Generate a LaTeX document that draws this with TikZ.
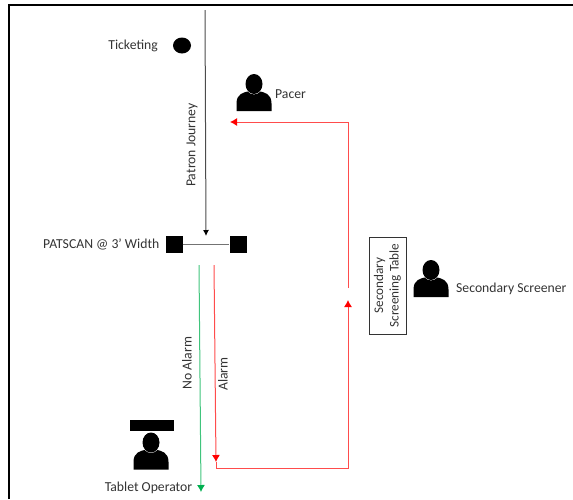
\documentclass[tikz,border=0pt]{standalone}
\usepackage{fontspec}
\setmainfont{Carlito}
\usetikzlibrary{arrows.meta,shapes.geometric}
\definecolor{officegreen}{RGB}{0,176,80}
\tikzset{
  x=1pt,y=-1pt,
  lbl/.style={inner sep=0pt,text=black!80,font=\fontsize{13.7}{16}\selectfont},
  post/.style={fill=black,draw=none,minimum size=17pt,inner sep=0pt},
  conn/.style={line width=1pt,-{Latex[length=6pt,width=6pt]}},
  redline/.style={conn,draw=red!70,-{Latex[length=7pt,width=8pt,color=red]}},
  greenline/.style={conn,draw=officegreen!75,-{Latex[length=7pt,width=8pt,color=officegreen]}},
  person/.pic={
    \fill[black] (0,-9.5) ellipse[x radius=8.5pt,y radius=10pt];
    \fill[black] (-17.5,17.5) -- (-17.5,10) .. controls (-17.5,0) and (-10,-1) .. (-6.5,-2)
      .. controls (-3,2) and (3,2) .. (6.5,-2)
      .. controls (10,-1) and (17.5,0) .. (17.5,10) -- (17.5,17.5) -- cycle;
  }
}
\begin{document}
\begin{tikzpicture}
\useasboundingbox (0,0) rectangle (573,499);
\draw[line width=2pt] (8.5,499) -- (8.5,5) -- (573,5);
% ticketing
\node[lbl,anchor=east] (ticketT) at (158,45.5) {Ticketing};
\node[ellipse,fill=black,minimum width=18pt,minimum height=16pt,inner sep=0pt] (ticket) at (182,45.5) {};
% pacer
\pic at (254,93.5) {person};
\node[lbl,anchor=west] (pacerT) at (275,94.5) {Pacer};
% patscan
\node[lbl,anchor=east] (patT) at (159.5,244.5) {PATSCAN @ 3’ Width};
\node[post] (pl) at (174,244.5) {};
\node[post] (pr) at (238,244.5) {};
\draw[draw=black!55,line width=1.2pt] (pl) -- (pr);
% journey
\coordinate (js) at (205,10);
\coordinate (je) at (206,236);
\draw[conn,draw=black!70,-{Latex[length=6pt,width=6pt,color=black]}] (js) -- (je);
\node[lbl,rotate=90] (jt) at (192,145) {Patron Journey};
% no alarm
\coordinate (gs) at (199,265);
\coordinate (ge) at (201,492);
\draw[greenline] (gs) -- (ge);
\node[lbl,rotate=90] (nat) at (187,363) {No Alarm};
% alarm
\coordinate (as) at (214,265);
\coordinate (ae) at (216,462);
\draw[redline] (as) -- (ae);
\node[lbl,rotate=90] (at) at (223,374) {Alarm};
% return
\coordinate (rs) at (216,462);
\coordinate (rb) at (216,468);
\coordinate (rc) at (348,468);
\coordinate (re) at (348,300);
\draw[redline,line join=miter] (rs) -- (rb) -- (rc) -- (re);
\coordinate (ts) at (348,288);
\coordinate (tc) at (348,122);
\coordinate (te) at (230,122);
\draw[redline] (ts) -- (tc) -- (te);
% table
\node[draw=black!80,line width=1pt,minimum width=37pt,minimum height=97pt,inner sep=0pt] (tbl) at (387.5,285.5) {};
\node[lbl,rotate=90,align=center,font=\fontsize{13.2}{15.5}\selectfont] (tblT) at (387.5,285.5) {Secondary\\Screening Table};
% secondary screener
\pic at (431,279.5) {person};
\node[lbl,anchor=west] (ssT) at (456,288.5) {Secondary Screener};
% tablet operator
\node[fill=black,minimum width=44pt,minimum height=11pt,inner sep=0pt] (tbar) at (152,425.5) {};
\pic at (151,452) {person};
\node[lbl] (toT) at (148.5,487.5) {Tablet Operator};
\end{tikzpicture}
\end{document}
